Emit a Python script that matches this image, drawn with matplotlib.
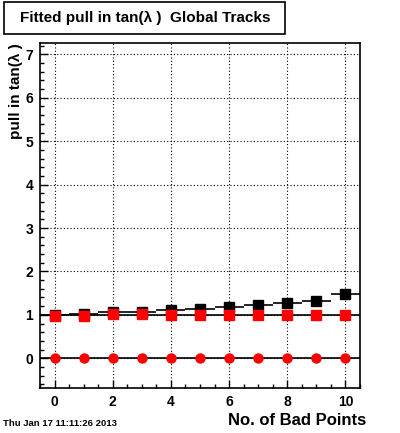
import numpy as np
import matplotlib.pyplot as plt
from matplotlib.patches import Rectangle
from matplotlib.ticker import MultipleLocator

plt.rcParams['font.family'] = ['Liberation Sans', 'DejaVu Sans']

bad_points = [0, 1, 2, 3, 4, 5, 6, 7, 8, 9, 10]
pull_black = [0.99, 1.01, 1.06, 1.06, 1.11, 1.13, 1.18, 1.22, 1.27, 1.31, 1.475]
pull_red = [0.97, 0.97, 1.01, 1.01, 0.99, 0.99, 0.99, 0.99, 0.99, 0.99, 0.99]
pull_zero = [0, 0, 0, 0, 0, 0, 0, 0, 0, 0, 0]

W, H = 400, 433
fig = plt.figure(figsize=(4.0, 4.33), dpi=100)
ax = fig.add_axes([0.1, 0.104, 0.8, 0.797])

x = np.array(bad_points)
ax.grid(True, which='major', linestyle=(0, (1, 2)), color='black', linewidth=0.8)
ax.axhline(1, color='black', lw=1.2, zorder=2)
ax.axhline(0, color='black', lw=1.2, zorder=2)

ax.hlines(pull_black, x - 0.5, x + 0.5, color='black', lw=1.2, zorder=3)
ax.plot(x, pull_black, 's', color='black', ms=6.5, zorder=4)
ax.plot(x, pull_red, 's', color='red', ms=6.5, zorder=5)
ax.plot(x, pull_zero, 'o', color='red', ms=6.5, zorder=5)

ax.set_xlim(-0.5, 10.5)
ax.set_ylim(-0.685, 7.265)
ax.xaxis.set_major_locator(MultipleLocator(2))
ax.xaxis.set_minor_locator(MultipleLocator(0.5))
ax.yaxis.set_major_locator(MultipleLocator(1))
ax.yaxis.set_minor_locator(MultipleLocator(0.2))
ax.tick_params(which='both', direction='in', top=False, right=False)
ax.tick_params(which='major', length=6, width=1, labelsize=10, pad=5)
ax.tick_params(which='minor', length=3, width=1)
for lab in ax.get_xticklabels() + ax.get_yticklabels():
    lab.set_fontweight('bold')
for s in ax.spines.values():
    s.set_linewidth(1.2)

fig.text(16 / W, 0.9, 'pull in tan(λ )', rotation=90, ha='center', va='top',
         fontsize=11, fontweight='bold')
fig.text(366 / W, 0.028, 'No. of Bad Points', ha='right', va='center',
         fontsize=12, fontweight='bold')
fig.text(3 / W, 0.021, 'Thu Jan 17 11:11:26 2013', ha='left', va='center',
         fontsize=6.8, fontweight='bold')

# title box
fig.patches.append(Rectangle((4 / W, 1 - 34 / H), 281 / W, 32 / H,
                             transform=fig.transFigure, fc='white', ec='black',
                             lw=1.2))
fig.text(145 / W, 1 - 18 / H, 'Fitted pull in tan(λ )  Global Tracks',
         ha='center', va='center', fontsize=11, fontweight='bold')

plt.savefig('out.png', dpi=100)
